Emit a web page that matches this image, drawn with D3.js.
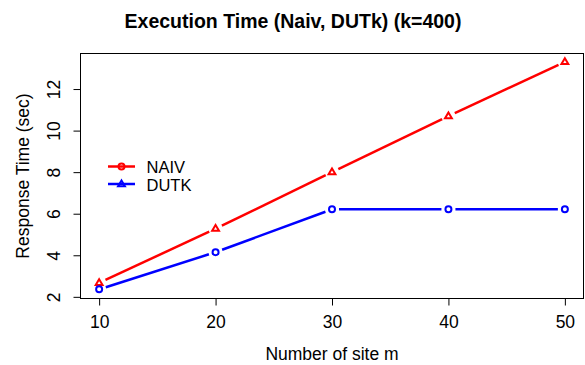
<!DOCTYPE html>
<html>
<head>
<meta charset="utf-8">
<script src="https://cdn.jsdelivr.net/npm/d3@7"></script>
<style>
  html, body { margin: 0; padding: 0; background: #fff; }
  svg { display: block; font-family: "Liberation Sans", Arial, sans-serif; }
</style>
</head>
<body>
<svg id="chart" width="585" height="365"></svg>
<script>
// Number of sites m
const sites = [10, 20, 30, 40, 50];
// Response times in seconds
const naiv = [2.67, 5.28, 8.0, 10.7, 13.31];
const dutk = [2.36, 4.15, 6.21, 6.21, 6.21];
const xTicks = [10, 20, 30, 40, 50];
const yTicks = [2, 4, 6, 8, 10, 12];
const legendNames = ["NAIV", "DUTK"];

const svg = d3.select("#chart");
const plot = { left: 80.5, right: 583.5, top: 53.5, bottom: 298.5 };
const fontFamily = "Liberation Sans, Arial, sans-serif";
const labelSize = 17.5;

const x = d3.scaleLinear().domain([8.4, 51.6]).range([plot.left, plot.right]);
const y = d3.scaleLinear().domain([1.92, 13.71]).range([plot.bottom, plot.top]);

// Title
svg.append("text")
  .attr("x", 293).attr("y", 28)
  .attr("text-anchor", "middle")
  .attr("font-size", 19.5).attr("font-weight", "bold")
  .text("Execution Time (Naiv, DUTk) (k=400)");

// Box
svg.append("rect")
  .attr("x", plot.left).attr("y", plot.top)
  .attr("width", plot.right - plot.left).attr("height", plot.bottom - plot.top)
  .attr("fill", "none").attr("stroke", "#000").attr("stroke-width", 1);

// X axis
const xAxis = d3.axisBottom(x).tickValues(xTicks).tickSize(7).tickPadding(0).tickFormat(d3.format("d"));
const gx = svg.append("g").attr("transform", `translate(0,${plot.bottom})`).call(xAxis);
gx.select(".domain").attr("d", `M${x(10)},0H${x(50)}`);
gx.selectAll("text")
  .attr("font-size", labelSize).attr("font-family", fontFamily).attr("fill", "#000")
  .attr("dy", null).attr("y", 29.5);

// Y axis with labels rotated parallel to the axis
const yAxis = d3.axisLeft(y).tickValues(yTicks).tickSize(7).tickFormat(d3.format("d"));
const gy = svg.append("g").attr("transform", `translate(${plot.left},0)`).call(yAxis);
gy.select(".domain").attr("d", `M0,${y(2)}V${y(12)}`);
gy.selectAll("text")
  .attr("font-size", labelSize).attr("font-family", fontFamily).attr("fill", "#000")
  .attr("x", null).attr("dy", null)
  .attr("text-anchor", "middle")
  .attr("transform", "translate(-20.5,0) rotate(-90)")
  .attr("y", 0);

// Axis titles
svg.append("text")
  .attr("x", (x(10) + x(50)) / 2).attr("y", 360)
  .attr("text-anchor", "middle").attr("font-size", labelSize)
  .text("Number of site m");
svg.append("text")
  .attr("transform", `translate(29,${(plot.top + plot.bottom) / 2}) rotate(-90)`)
  .attr("text-anchor", "middle").attr("font-size", labelSize)
  .text("Response Time (sec)");

// Lines with gaps around points (type "b")
const gap = 7;
function drawSeries(vals, color, shape) {
  const pts = sites.map((s, i) => [x(s), y(vals[i])]);
  const g = svg.append("g");
  for (let i = 0; i < pts.length - 1; i++) {
    const [x0, y0] = pts[i], [x1, y1] = pts[i + 1];
    const len = Math.hypot(x1 - x0, y1 - y0);
    const ux = (x1 - x0) / len, uy = (y1 - y0) / len;
    g.append("line")
      .attr("x1", x0 + ux * gap).attr("y1", y0 + uy * gap)
      .attr("x2", x1 - ux * gap).attr("y2", y1 - uy * gap)
      .attr("stroke", color).attr("stroke-width", 2.5);
  }
  pts.forEach(p => drawMarker(g, p[0], p[1], color, shape));
}
function drawMarker(g, cx, cy, color, shape) {
  if (shape === "circle") {
    g.append("circle").attr("cx", cx).attr("cy", cy).attr("r", 3)
      .attr("fill", "none").attr("stroke", color).attr("stroke-width", 2);
  } else {
    const r = 3.6;
    g.append("path")
      .attr("d", `M${cx},${cy - r}L${cx + r * 0.95},${cy + r * 0.6}L${cx - r * 0.95},${cy + r * 0.6}Z`)
      .attr("fill", "none").attr("stroke", color).attr("stroke-width", 2);
  }
}
drawSeries(naiv, "#ff0000", "triangle");
drawSeries(dutk, "#0000ff", "circle");

// Legend
const legColors = ["#ff0000", "#0000ff"];
const legShapes = ["circle", "triangle"];
legendNames.forEach((name, i) => {
  const ly = 166.5 + i * 17.5;
  const g = svg.append("g");
  g.append("line").attr("x1", 108).attr("x2", 135).attr("y1", ly).attr("y2", ly)
    .attr("stroke", legColors[i]).attr("stroke-width", 2.5);
  drawMarker(g, 121.5, ly, legColors[i], legShapes[i]);
  svg.append("text").attr("x", 146.5).attr("y", ly + 6.5).attr("font-size", 16.5).text(name);
});
</script>
</body>
</html>
